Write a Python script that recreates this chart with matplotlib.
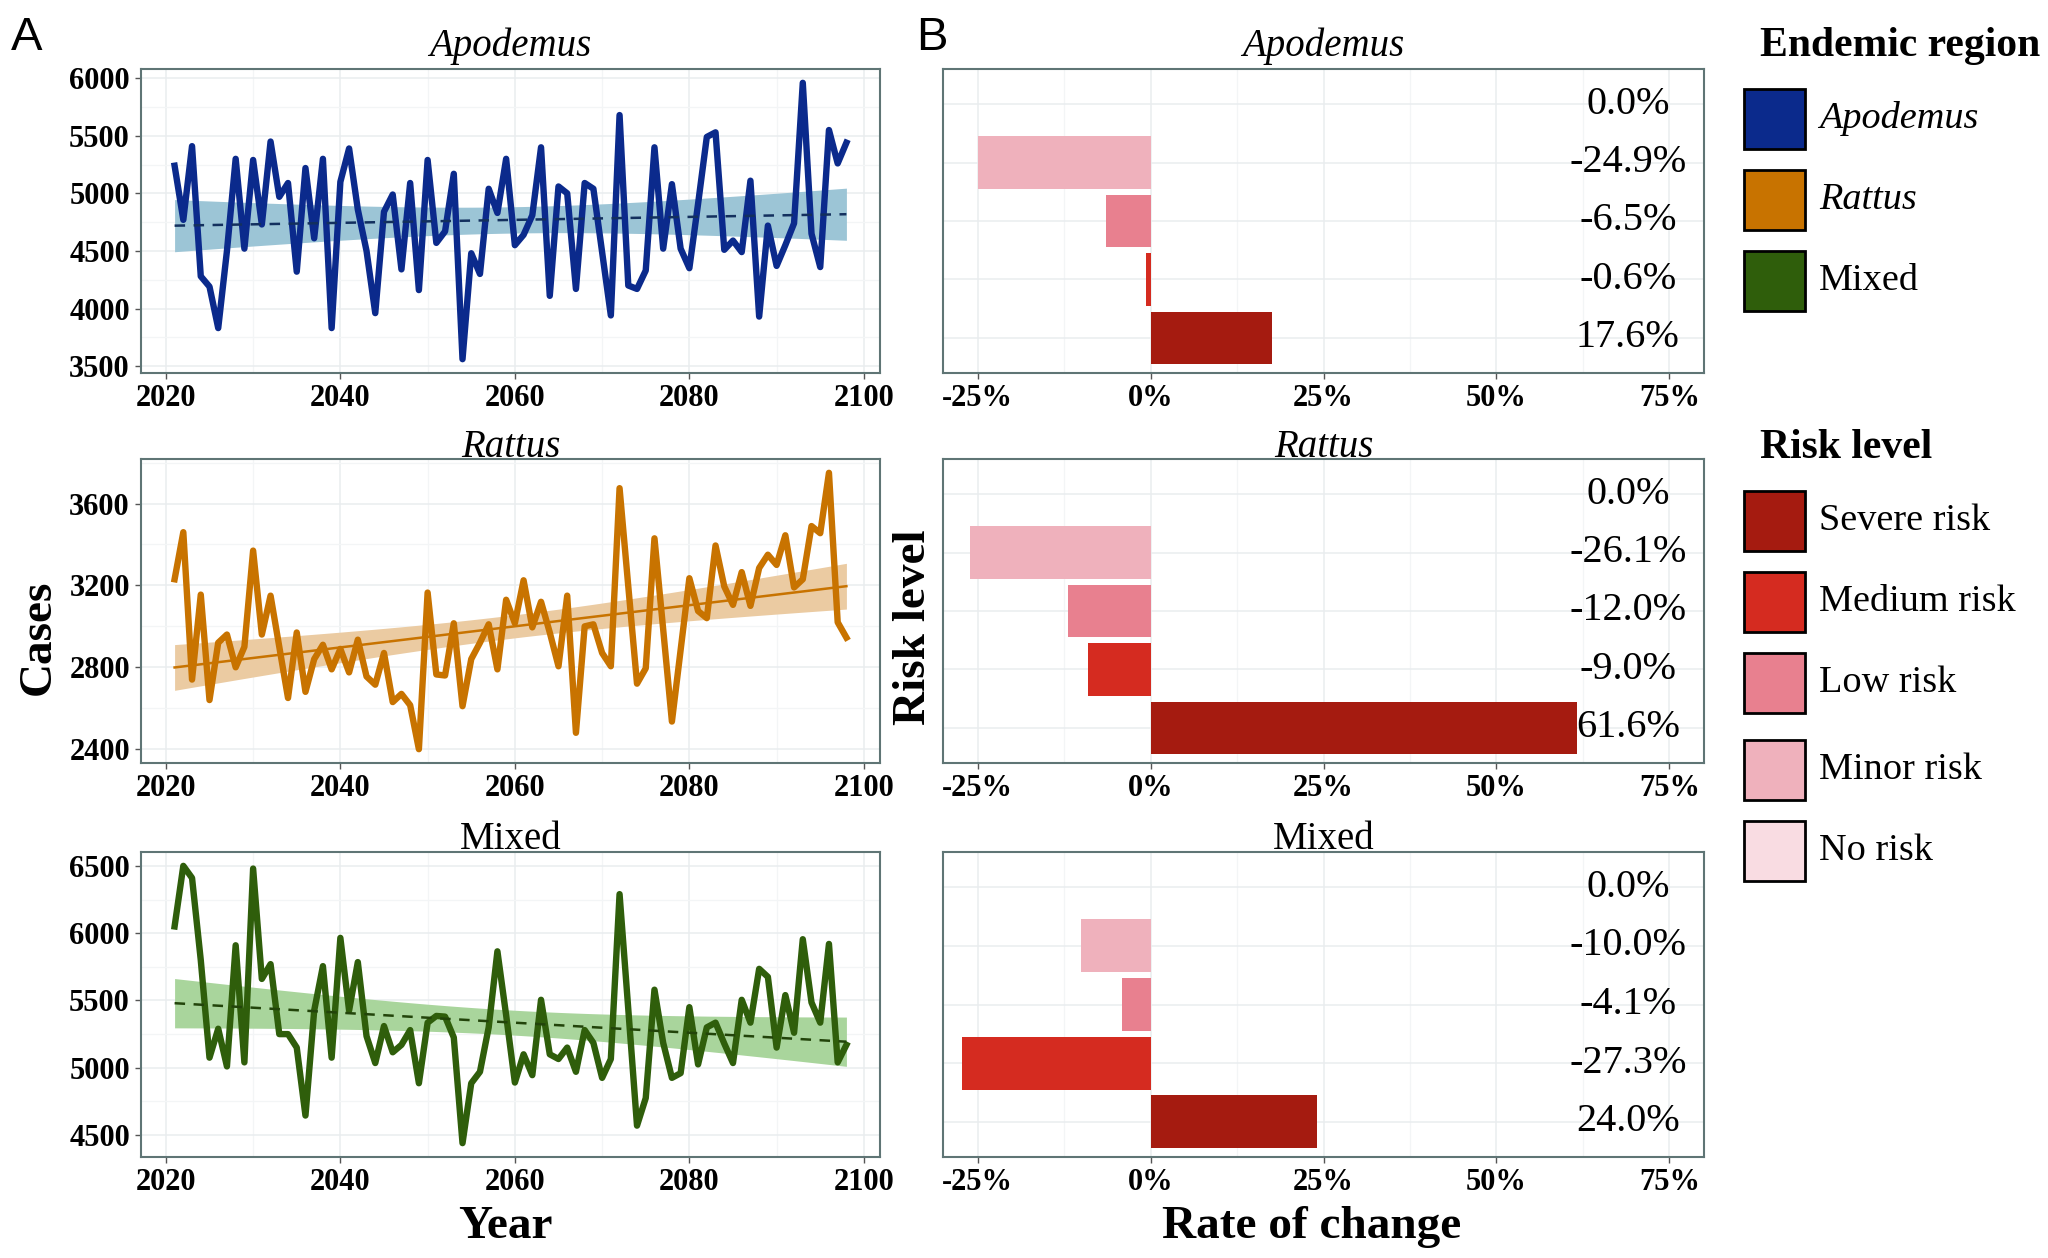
import numpy as np
import matplotlib
matplotlib.use('Agg')
import matplotlib.pyplot as plt
from matplotlib.patches import Rectangle

plt.rcParams['font.family'] = ['Liberation Serif', 'DejaVu Serif']

# ---------------- data ----------------
years = list(range(2021, 2099))

apodemus_cases = [5240, 4770, 5410, 4280, 4190, 3830, 4500, 5300, 4520, 5290,
                  4730, 5450, 4970, 5090, 4320, 5220, 4610, 5300, 3830, 5100,
                  5390, 4860, 4500, 3960, 4840, 4990, 4340, 5090, 4160, 5290,
                  4570, 4670, 5170, 3560, 4480, 4300, 5040, 4830, 5300, 4550,
                  4640, 4810, 5400, 4110, 5060, 5000, 4170, 5090, 5040, 4490,
                  3940, 5680, 4200, 4170, 4330, 5400, 4520, 5080, 4520, 4350,
                  4910, 5490, 5530, 4510, 4590, 4490, 5110, 3930, 4720, 4370,
                  4550, 4740, 5960, 4650, 4360, 5550, 5260, 5440]

rattus_cases = [3230, 3460, 2740, 3155, 2640, 2920, 2960, 2800, 2900, 3370,
                2960, 3150, 2900, 2650, 2970, 2680, 2840, 2910, 2790, 2890,
                2775, 2935, 2755, 2715, 2870, 2630, 2670, 2615, 2400, 3165,
                2765, 2760, 3015, 2610, 2840, 2920, 3010, 2790, 3130, 3015,
                3225, 2995, 3120, 2970, 2805, 3150, 2480, 3000, 3010, 2870,
                2805, 3675, 3195, 2720, 2795, 3430, 2985, 2535, 2885, 3235,
                3075, 3040, 3395, 3195, 3105, 3265, 3100, 3285, 3350, 3300,
                3445, 3190, 3230, 3490, 3455, 3750, 3020, 2945]

mixed_cases = [6050, 6500, 6410, 5800, 5075, 5290, 5010, 5910, 5040, 6480,
               5660, 5770, 5250, 5250, 5150, 4645, 5425, 5755, 5075, 5965,
               5425, 5785, 5235, 5035, 5310, 5115, 5170, 5280, 4885, 5335,
               5385, 5380, 5225, 4440, 4885, 4970, 5300, 5865, 5390, 4890,
               5100, 4945, 5505, 5100, 5065, 5150, 4970, 5280, 5185, 4925,
               5065, 6290, 5435, 4570, 4775, 5580, 5185, 4925, 4960, 5450,
               5025, 5300, 5335, 5180, 5035, 5505, 5335, 5735, 5675, 5150,
               5540, 5260, 5955, 5485, 5335, 5920, 5040, 5170]

regions = ['Apodemus', 'Rattus', 'Mixed']
region_italic = [True, True, False]
region_colors = ['#0b2a8c', '#c87300', '#2f5e0b']
ribbon_colors = ['#9cc5d6', '#ebcba2', '#a9d59c']
trend_colors = ['#13305e', '#c87300', '#22440a']
trend_styles = ['--', '-', '--']

risk_levels = ['No risk', 'Minor risk', 'Low risk', 'Medium risk', 'Severe risk']
risk_colors = ['#f9dce2', '#efb1bc', '#e8808f', '#d52b20', '#a51b10']
apodemus_change = [0.0, -24.9, -6.5, -0.6, 17.6]
rattus_change = [0.0, -26.1, -12.0, -9.0, 61.6]
mixed_change = [0.0, -10.0, -4.1, -27.3, 24.0]

y_ticks = [[3500, 4000, 4500, 5000, 5500, 6000],
           [2400, 2800, 3200, 3600],
           [4500, 5000, 5500, 6000, 6500]]
x_ticks = [2020, 2040, 2060, 2080, 2100]
pct_ticks = [-25, 0, 25, 50, 75]
pct_labels = ['-25%', '0%', '25%', '50%', '75%']

# ---------------- layout ----------------
W, H = 2048, 1258
fig = plt.figure(figsize=(W / 100, H / 100), dpi=100)


def fx(px):
    return px / W


def fy(py):
    return 1 - py / H


panel_rows = [(69, 373), (459, 763), (852, 1157)]
title_off_px = [13, 2, 3]
A_x = (141, 880)
B_x = (943, 1704)

BORDER = '#5f7575'
GRID_MAJ = '#e9edef'
GRID_MIN = '#f3f5f6'
TICK_FS = 22


def style_axes(ax):
    for s in ax.spines.values():
        s.set_color(BORDER)
        s.set_linewidth(1.5)
    ax.set_axisbelow(True)
    ax.grid(which='major', color=GRID_MAJ, lw=1.1)
    ax.grid(which='minor', color=GRID_MIN, lw=0.9)
    ax.tick_params(which='major', direction='out', length=4, width=1,
                   color='#555555', pad=4)
    ax.tick_params(which='minor', length=0)


def lm_band(x, y, t=1.9917):
    x = np.asarray(x, float)
    y = np.asarray(y, float)
    n = len(x)
    xc = x - x.mean()
    sxx = (xc ** 2).sum()
    b = (xc * y).sum() / sxx
    fit = y.mean() + b * xc
    s = np.sqrt(((y - fit) ** 2).sum() / (n - 2))
    se = s * np.sqrt(1 / n + xc ** 2 / sxx)
    return fit, fit - t * se, fit + t * se


series = [apodemus_cases, rattus_cases, mixed_cases]
changes = [apodemus_change, rattus_change, mixed_change]
ypos = [5, 4, 3, 2, 1]

for i in range(3):
    top, bot = panel_rows[i]
    hpx = bot - top
    # ---- panel A ----
    ax = fig.add_axes([fx(A_x[0]), fy(bot), fx(A_x[1] - A_x[0]), hpx / H])
    style_axes(ax)
    fit, lo, hi = lm_band(years, series[i])
    ax.fill_between(years, lo, hi, color=ribbon_colors[i], lw=0, zorder=2)
    ax.plot(years, series[i], color=region_colors[i], lw=4.6, zorder=3,
            solid_joinstyle='round')
    if trend_styles[i] == '--':
        ax.plot(years, fit, color=trend_colors[i], lw=1.8, zorder=4,
                ls=(0, (4.2, 3.4)))
    else:
        ax.plot(years, fit, color=trend_colors[i], lw=1.8, zorder=4)
    ax.set_xticks(x_ticks)
    ax.set_xticklabels([str(v) for v in x_ticks], fontweight='bold', fontsize=TICK_FS)
    ax.set_xticks([2030, 2050, 2070, 2090], minor=True)
    yt = y_ticks[i]
    ax.set_yticks(yt)
    ax.set_yticklabels([str(v) for v in yt], fontweight='bold', fontsize=TICK_FS)
    step = yt[1] - yt[0]
    ax.set_yticks([v + step / 2 for v in [yt[0] - step] + yt], minor=True)
    ymin = min(min(series[i]), lo.min())
    ymax = max(max(series[i]), hi.max())
    pad = 0.05 * (ymax - ymin)
    ax.set_ylim(ymin - pad, ymax + pad)
    xpad = 0.05 * (years[-1] - years[0])
    ax.set_xlim(years[0] - xpad, years[-1] + xpad)
    ax.text(0.5, 1 + title_off_px[i] / hpx, regions[i], transform=ax.transAxes,
            ha='center', va='baseline', fontsize=28,
            style='italic' if region_italic[i] else 'normal')

    # ---- panel B ----
    bx = fig.add_axes([fx(B_x[0]), fy(bot), fx(B_x[1] - B_x[0]), hpx / H])
    style_axes(bx)
    bx.barh(ypos, changes[i], height=0.9, color=risk_colors, zorder=3)
    for yv, v in zip(ypos, changes[i]):
        bx.text(69, yv, f'{v:.1f}%', ha='center', va='center', fontsize=29,
                zorder=4)
    bx.set_xticks(pct_ticks)
    bx.set_xticklabels(pct_labels, fontweight='bold', fontsize=TICK_FS)
    bx.set_xticks([-12.5, 12.5, 37.5, 62.5], minor=True)
    bx.set_yticks(ypos)
    bx.set_yticklabels([])
    bx.tick_params(axis='y', which='major', length=0)
    bx.set_xlim(-30, 80)
    bx.set_ylim(0.4, 5.6)
    bx.text(0.5, 1 + title_off_px[i] / hpx, regions[i], transform=bx.transAxes,
            ha='center', va='baseline', fontsize=28,
            style='italic' if region_italic[i] else 'normal')

# ---------------- axis titles & panel letters ----------------
fig.text(fx(39), fy(637), 'Cases', rotation=90, ha='center', va='center',
         fontsize=34, fontweight='bold')
fig.text(fx(914), fy(627), 'Risk level', rotation=90, ha='center', va='center',
         fontsize=34, fontweight='bold')
fig.text(fx(505), fy(1227), 'Year', ha='center', va='center',
         fontsize=34, fontweight='bold')
fig.text(fx(1312), fy(1227), 'Rate of change', ha='center', va='center',
         fontsize=34, fontweight='bold')
fig.text(fx(11), fy(50), 'A', ha='left', va='baseline', fontsize=34,
         family='Liberation Sans')
fig.text(fx(916), fy(50), 'B', ha='left', va='baseline', fontsize=34,
         family='Liberation Sans')

# ---------------- legends ----------------
box_x, box_w, box_h = 1744, 61, 60
lab_x = 1819
fig.text(fx(1760), fy(46), 'Endemic region', ha='left', va='center',
         fontsize=30, fontweight='bold')
endemic_y = [119, 200, 281]
for cy, name, col, it in zip(endemic_y, regions, region_colors, region_italic):
    fig.add_artist(Rectangle((fx(box_x), fy(cy + box_h / 2)), fx(box_w), box_h / H,
                             transform=fig.transFigure, fc=col, ec='black', lw=2))
    fig.text(fx(lab_x), fy(cy), name, ha='left', va='center', fontsize=27.5,
             style='italic' if it else 'normal')

fig.text(fx(1760), fy(448), 'Risk level', ha='left', va='center',
         fontsize=30, fontweight='bold')
risk_legend_y = [521, 602, 683, 770, 851]
for cy, k in zip(risk_legend_y, [4, 3, 2, 1, 0]):
    fig.add_artist(Rectangle((fx(box_x), fy(cy + box_h / 2)), fx(box_w), box_h / H,
                             transform=fig.transFigure, fc=risk_colors[k],
                             ec='black', lw=2))
    fig.text(fx(lab_x), fy(cy), risk_levels[k], ha='left', va='center',
             fontsize=27.5)

fig.savefig('out.png', dpi=100)
